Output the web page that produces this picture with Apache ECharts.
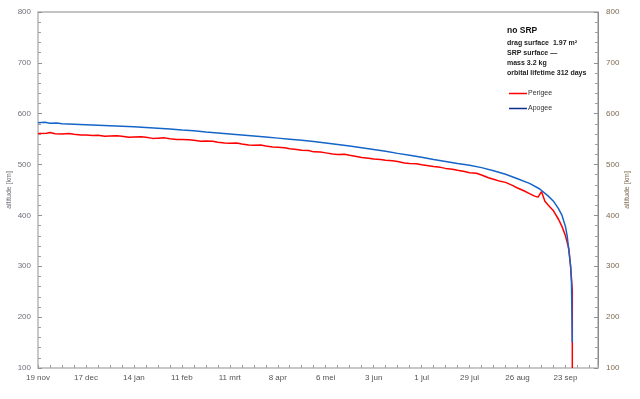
<!DOCTYPE html>
<html>
<head>
<meta charset="utf-8">
<script src="https://cdn.jsdelivr.net/npm/echarts@6/dist/echarts.min.js"></script>
<style>
  html, body { margin: 0; padding: 0; background: #fff; }
  #main { width: 640px; height: 399px; }
</style>
</head>
<body>
<div id="main"></div>
<script>
(function () {
    // days since 19 nov, tick every 4 weeks
    const tickLabels = ['19 nov', '17 dec', '14 jan', '11 feb', '11 mrt', '8 apr', '6 mei', '3 jun', '1 jul', '29 jul', '26 aug', '23 sep'];

    const apogeeDays = [0, 4, 7, 11, 14, 21, 28, 35, 42, 49, 56, 63, 70, 77, 84, 91, 98, 105, 112, 119, 126, 133, 140, 147, 154,
        161, 168, 175, 182, 189, 196, 203, 210, 217, 224, 231, 238, 245, 252, 259, 266, 273, 280, 287, 293, 298, 301,
        304, 306, 308, 309, 310, 311, 311.5, 312];
    const apogeeKm = [582, 583, 581.3, 581.8, 580.5, 579.5, 578.5, 577.5, 576.5, 575.3, 574.2, 573, 571.5, 570, 568, 566.3, 564, 562,
        560, 558, 556, 554, 552, 550, 548, 545.5, 542.5, 539.5, 536.5, 533, 529.5, 526, 522, 518.5, 514.5, 510, 506, 502,
        498.5, 494, 488, 481, 472, 463, 452, 438, 428, 413, 400, 378, 360, 330, 300, 270, 150];

    const perigeeDays = [0, 5, 7, 10, 14, 18, 21, 25, 28, 32, 35, 39, 42, 46, 49, 53, 56, 60, 63, 67, 70, 74, 77, 81, 84,
        88, 91, 95, 98, 102, 105, 109, 112, 116, 119, 123, 126, 130, 133, 137, 140, 144, 147, 151, 154, 158, 161, 165,
        168, 172, 175, 179, 182, 186, 189, 193, 196, 200, 203, 207, 210, 214, 217, 221, 224, 228, 231, 235, 238, 242,
        245, 249, 252, 256, 259, 263, 266, 270, 273, 277, 280, 284, 287, 290, 292, 294, 296, 298, 301, 304, 306, 308,
        310, 311, 312, 312];
    const perigeeKm = [561, 561.5, 563, 560.5, 560, 561, 559.5, 558, 558, 557, 557.5, 555.5, 556, 556.5, 555.5, 553.5,
        554, 554.5, 553.5, 551.5, 552, 552.5, 551, 549.5, 549.5, 549, 548, 546, 546.5, 546, 544, 542.5, 542, 542.5, 540.5,
        538.5, 538, 538.5, 536.5, 534.5, 534, 533, 531, 529.5, 528, 527.5, 525, 524.5, 523, 521, 520, 520.5, 518.5, 516,
        514, 512.5, 511, 510, 508.5, 507.5, 506, 503, 502, 501.5, 499.5, 497.5, 496, 494.5, 492.5, 491, 489, 486.5, 484,
        483, 479.5, 474, 471, 467, 465, 459, 454, 448, 443, 438, 436, 447, 428, 420, 409, 392, 378, 360, 334, 300, 253, 100];

    const notes = ['drag surface  1.97 m\u00b2', 'SRP surface \u2014', 'mass 3.2 kg', 'orbital lifetime 312 days'];

    const font = 'Liberation Sans';
    const leftGrey = '#6f6f7a';
    const rightBrown = '#7d6a52';

    function pairs(xs, ys) {
        return xs.map(function (x, i) { return [x, ys[i]]; });
    }

    const noteTitles = notes.map(function (t, i) {
        return {
            text: t,
            left: 502,
            top: 35 + i * 10,
            textStyle: { fontFamily: font, fontSize: 7, fontWeight: 'bold', color: '#222' }
        };
    });

    const option = {
        animation: false,
        backgroundColor: '#fff',
        title: [{
            text: 'no SRP',
            left: 502,
            top: 21,
            textStyle: { fontFamily: font, fontSize: 8.5, fontWeight: 'bold', color: '#111' }
        }].concat(noteTitles),
        legend: {
            orient: 'vertical',
            left: 504,
            top: 85,
            itemGap: 8,
            itemWidth: 18,
            itemHeight: 1.5,
            icon: 'rect',
            textStyle: { fontFamily: font, fontSize: 7, color: '#333', padding: [0, 0, 0, -4] },
            data: [
                { name: 'Perigee', itemStyle: { color: '#ff0000' } },
                { name: 'Apogee', itemStyle: { color: '#0a2f8c' } }
            ]
        },
        grid: {
            left: 38,
            right: 42,
            top: 12,
            bottom: 31,
            outerBoundsMode: 'none',
            containLabel: false,
            show: true,
            borderColor: '#8a8a8a',
            borderWidth: 1
        },
        xAxis: {
            type: 'value',
            min: 0,
            max: 327,
            interval: 28,
            axisLine: { lineStyle: { color: '#c8c8c8', width: 2 } },
            axisTick: { inside: true, length: 3, lineStyle: { color: '#a0a0a0' } },
            minorTick: { show: true, splitNumber: 4, length: 3, lineStyle: { color: '#a0a0a0' } },
            splitLine: { show: false },
            axisLabel: {
                fontFamily: font,
                fontSize: 8,
                color: '#555',
                margin: 6,
                showMaxLabel: false,
                formatter: function (v) {
                    return v % 28 === 0 ? tickLabels[v / 28] : '';
                }
            }
        },
        yAxis: [{
            type: 'value',
            min: 100,
            max: 800,
            interval: 100,
            name: 'altitude [km]',
            nameLocation: 'middle',
            nameGap: 25,
            nameMoveOverlap: false,
            nameTextStyle: { fontFamily: font, fontSize: 7, color: leftGrey },
            axisLine: { show: true, lineStyle: { color: '#c8c8c8', width: 2 } },
            axisTick: { show: true, inside: true, length: 4, lineStyle: { color: '#909090' } },
            minorTick: { show: true, splitNumber: 5, length: 3, lineStyle: { color: '#a0a0a0' } },
            splitLine: { show: false },
            axisLabel: { fontFamily: font, fontSize: 8, color: leftGrey, margin: 7 }
        }, {
            type: 'value',
            position: 'right',
            min: 100,
            max: 800,
            interval: 100,
            name: 'altitude [km]',
            nameLocation: 'middle',
            nameGap: 26,
            nameRotate: 90,
            nameMoveOverlap: false,
            nameTextStyle: { fontFamily: font, fontSize: 7, color: rightBrown },
            axisLine: { show: true, lineStyle: { color: '#8a8a8a', width: 1 } },
            axisTick: { show: true, inside: true, length: 4, lineStyle: { color: '#909090' } },
            minorTick: { show: true, splitNumber: 5, length: 3, lineStyle: { color: '#a0a0a0' } },
            splitLine: { show: false },
            axisLabel: { fontFamily: font, fontSize: 8, color: rightBrown, margin: 8 }
        }],
        series: [{
            name: 'Perigee',
            type: 'line',
            showSymbol: false,
            lineStyle: { color: '#ff0000', width: 1.5 },
            itemStyle: { color: '#ff0000' },
            data: pairs(perigeeDays, perigeeKm)
        }, {
            name: 'Apogee',
            type: 'line',
            showSymbol: false,
            lineStyle: { color: '#1565c8', width: 1.5 },
            itemStyle: { color: '#0a2f8c' },
            data: pairs(apogeeDays, apogeeKm)
        }]
    };

    const myChart = echarts.init(document.getElementById('main'));
    myChart.setOption(option);
}());
</script>
</body>
</html>
